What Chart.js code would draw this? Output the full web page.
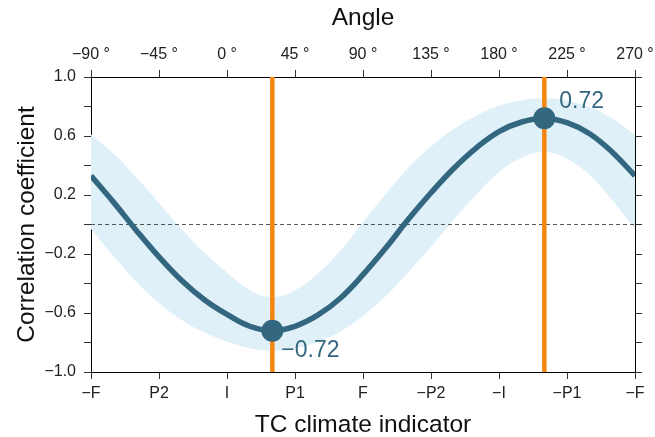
<!DOCTYPE html>
<html>
<head>
<meta charset="utf-8">
<script src="https://cdn.jsdelivr.net/npm/chart.js@4.4.0/dist/chart.umd.min.js"></script>
<style>
  body { margin: 0; background: #fff; }
  #wrap { width: 655px; height: 437px; }
</style>
</head>
<body>
<div id="wrap"><canvas id="grafico" width="655" height="437"></canvas></div>
<script>
// angle (deg) along the top axis
const angles = [-90, -75, -60, -45, -30, -15, 0, 15, 30, 45, 60, 75, 90, 105, 120, 135, 150, 165, 180, 195, 210, 225, 240, 255, 270]
// correlation curve
const corr = [0.33, 0.15, -0.04, -0.22, -0.38, -0.51, -0.61, -0.69, -0.72, -0.69, -0.615, -0.50, -0.34, -0.16, 0.035, 0.215, 0.38, 0.52, 0.63, 0.695, 0.72, 0.69, 0.615, 0.49, 0.33]
// shaded band
const upper = [0.61, 0.48, 0.32, 0.145, -0.03, -0.19, -0.326, -0.445, -0.49, -0.445, -0.334, -0.177, 0.016, 0.206, 0.384, 0.529, 0.647, 0.738, 0.805, 0.842, 0.856, 0.839, 0.796, 0.719, 0.61]
const lower = [-0.03, -0.215, -0.389, -0.533, -0.647, -0.732, -0.793, -0.839, -0.856, -0.839, -0.796, -0.726, -0.619, -0.486, -0.323, -0.15, 0.03, 0.203, 0.355, 0.452, 0.491, 0.445, 0.334, 0.165, -0.03]
// extremes
const peakAngles = [30, 210]
const peakValues = [-0.72, 0.72]
const peakLabels = ['\u22120.72', '0.72']
// axis labels
const bottomLabels = ['\u2212F', 'P2', 'I', 'P1', 'F', '\u2212P2', '\u2212I', '\u2212P1', '\u2212F']

const teal = '#32677f'
const orange = '#f5870f'
const band = '#dff0f9'
const minus = v => String(v).replace('-', '\u2212')

Chart.defaults.font.family = '"Liberation Sans", Arial, sans-serif'
Chart.defaults.color = '#222'

const pts = arr => angles.map((a, i) => ({ x: a, y: arr[i] }))

const datasets = [
  { data: pts(upper), borderWidth: 0, pointRadius: 0, fill: '+1', backgroundColor: band, tension: 0.4, order: 9 },
  { data: pts(lower), borderWidth: 0, pointRadius: 0, fill: false, tension: 0.4, order: 9 },
  { data: [{ x: -90, y: 0 }, { x: 270, y: 0 }], borderColor: '#555', borderWidth: 1, borderDash: [4, 3], pointRadius: 0, order: 8 },
  { data: pts(corr), borderColor: teal, borderWidth: 5.5, pointRadius: 0, tension: 0.4, order: 6 }
]
peakAngles.forEach(a => {
  datasets.push({ data: [{ x: a, y: -1 }, { x: a, y: 1 }], borderColor: orange, borderWidth: 4.5, pointRadius: 0, order: 4 })
})
datasets.push({
  data: peakAngles.map((a, i) => ({ x: a, y: peakValues[i] })),
  showLine: false, pointRadius: 11, pointHoverRadius: 11, backgroundColor: teal, borderWidth: 0, order: 1
})

const peakText = {
  id: 'peakText',
  afterDatasetsDraw(chart) {
    const { ctx, scales } = chart
    ctx.save()
    ctx.fillStyle = teal
    ctx.font = '23px "Liberation Sans", Arial, sans-serif'
    ctx.textBaseline = 'middle'
    ctx.textAlign = 'left'
    peakAngles.forEach((a, i) => {
      const px = scales.x.getPixelForValue(a)
      const py = scales.y.getPixelForValue(peakValues[i])
      const dy = peakValues[i] < 0 ? 20 : -17
      ctx.fillText(peakLabels[i], px + (peakValues[i] < 0 ? 9 : 15), py + dy)
    })
    ctx.restore()
  }
}

const tickGrid = { drawOnChartArea: false, drawTicks: true, tickLength: 7, color: '#333' }
const border = { display: true, color: '#000', width: 1 }
const tickFont = { size: 16 }
const titleFont = { size: 24.5, lineHeight: 1 }
const fitX = h => s => { s.height = h; s.paddingLeft = 0; s.paddingRight = 0 }

new Chart(document.getElementById('grafico'), {
  type: 'line',
  data: { datasets },
  plugins: [peakText],
  options: {
    responsive: false,
    animation: false,
    events: [],
    layout: { padding: 0 },
    plugins: { legend: { display: false }, tooltip: { enabled: false } },
    scales: {
      x: {
        type: 'linear', position: 'top', min: -90, max: 270,
        afterFit: fitX(77),
        grid: tickGrid, border,
        ticks: { stepSize: 45, autoSkip: false, maxRotation: 0, font: tickFont, padding: 6, callback: v => minus(v) + ' \u00b0' },
        title: { display: true, text: 'Angle', color: '#111', font: titleFont, padding: { top: 6, bottom: 0 } }
      },
      x2: {
        type: 'linear', position: 'bottom', min: -90, max: 270,
        afterFit: fitX(65),
        grid: tickGrid, border,
        ticks: { stepSize: 45, autoSkip: false, maxRotation: 0, font: tickFont, padding: 5, callback: (v, i) => bottomLabels[i] },
        title: { display: true, text: 'TC climate indicator', color: '#111', font: titleFont, padding: { top: 0, bottom: 0 } }
      },
      y: {
        type: 'linear', position: 'left', min: -1, max: 1,
        afterFit: s => { s.width = 91 },
        grid: tickGrid, border,
        ticks: { stepSize: 0.2, font: tickFont, padding: 8, callback: (v, i) => i % 2 === 0 ? minus(v.toFixed(1)) : '' },
        title: { display: true, text: 'Correlation coefficient', color: '#111', font: titleFont, padding: { top: 15, bottom: 0 } }
      },
      y2: {
        type: 'linear', position: 'right', min: -1, max: 1,
        afterFit: s => { s.width = 20 },
        grid: tickGrid, border,
        ticks: { stepSize: 0.2, callback: () => '' }
      }
    }
  }
})
</script>
</body>
</html>
